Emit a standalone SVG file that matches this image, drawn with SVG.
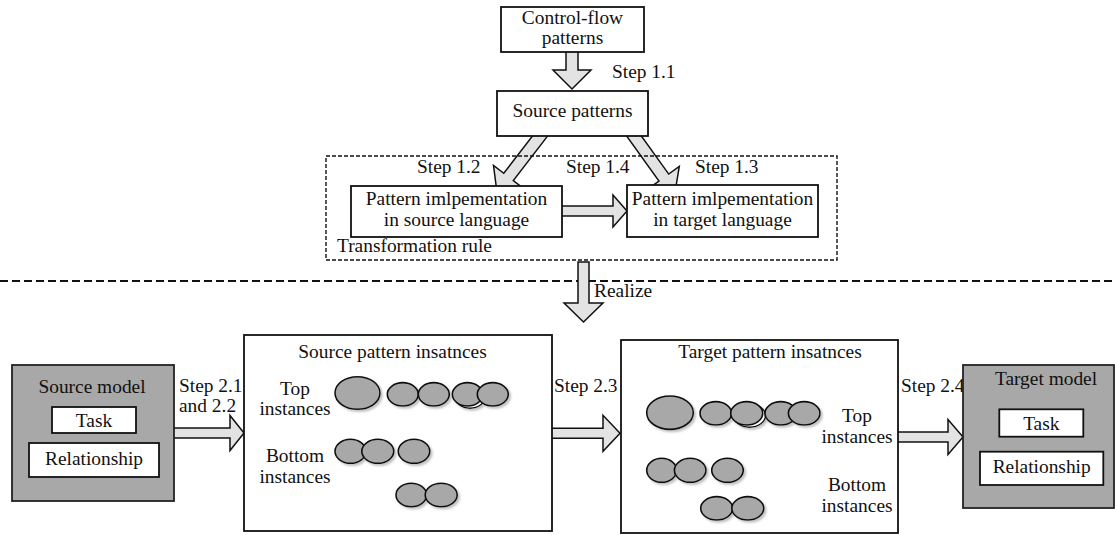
<svg xmlns="http://www.w3.org/2000/svg" width="1115" height="535" viewBox="0 0 1115 535">
  <style>
    text { font-family: "Liberation Serif", Tinos, "Times New Roman", serif; font-size: 19.4px; fill: #111; }
    .mid { text-anchor: middle; }
    .box { fill: #fff; stroke: #111; stroke-width: 1.8; }
    .model { fill: #a8a8a8; stroke: #222; stroke-width: 1.8; }
    .arrow { fill: #e3e3e3; stroke: #111; stroke-width: 1.5; stroke-linejoin: miter; }
    .inst { fill: #a8a8a8; stroke: #111; stroke-width: 1.6; }
    .inst-back { fill: #fff; stroke: #111; stroke-width: 1.4; }
  </style>
  <defs>
    <filter id="shade" x="-20%" y="-20%" width="150%" height="160%">
      <feDropShadow dx="2" dy="2" stdDeviation="1.2" flood-color="#999" flood-opacity="0.6"/>
    </filter>
  </defs>

  <!-- section separator -->
  <line x1="0" y1="281" x2="1115" y2="281" stroke="#111" stroke-width="2" stroke-dasharray="8 4"/>

  <!-- connectors (block arrows) -->
  <g id="connectors">
    <polygon class="arrow" points="566,50 578,50 578,70 591,70 572,89 553,70 566,70"/>
    <polygon class="arrow" transform="translate(544.9,129.7) rotate(127.6)" points="0,-6 59.6,-6 59.6,-19 78.6,0 59.6,19 59.6,6 0,6"/>
    <polygon class="arrow" transform="translate(629.3,129.5) rotate(54.3)" points="0,-6 59.2,-6 59.2,-19 78.2,0 59.2,19 59.2,6 0,6"/>
    <polygon class="arrow" points="560,206 613,206 613,195 627,211 613,227 613,216 560,216"/>
    <polygon class="arrow" points="578,262 589,262 589,303 603,303 583.5,322 564,303 578,303"/>
    <polygon class="arrow" points="172,428 230,428 230,415.5 244,433 230,450.5 230,438 172,438"/>
    <polygon class="arrow" points="550,428.3 603,428.3 603,415.3 620,433.3 603,451.3 603,438.3 550,438.3"/>
    <polygon class="arrow" points="896,432 948,432 948,419.5 963,437 948,454.5 948,442 896,442"/>
  </g>

  <!-- transformation rule frame -->
  <g id="transformation-rule">
    <rect x="326" y="156" width="511" height="104" fill="none" stroke="#111" stroke-width="1.4" stroke-dasharray="4 2"/>
    <text x="337" y="252">Transformation rule</text>
  </g>

  <g id="control-flow-patterns">
    <rect class="box" x="501" y="7" width="143" height="45"/>
    <text class="mid" x="572.5" y="24">Control-flow</text>
    <text class="mid" x="572.5" y="44">patterns</text>
  </g>

  <g id="source-patterns">
    <rect class="box" x="497" y="91" width="151" height="45"/>
    <text class="mid" x="572.5" y="117">Source patterns</text>
  </g>

  <g id="impl-source">
    <rect class="box" x="351" y="186" width="211" height="51"/>
    <text class="mid" x="456.5" y="205">Pattern imlpementation</text>
    <text class="mid" x="456.5" y="226">in source language</text>
  </g>

  <g id="impl-target">
    <rect class="box" x="627" y="185" width="191" height="52"/>
    <text class="mid" x="722.5" y="205">Pattern imlpementation</text>
    <text class="mid" x="722.5" y="226">in target language</text>
  </g>

  <!-- step labels -->
  <g id="labels">
    <text x="612" y="78">Step 1.1</text>
    <text x="417" y="173">Step 1.2</text>
    <text x="566" y="173">Step 1.4</text>
    <text x="695" y="173">Step 1.3</text>
    <text x="594" y="297">Realize</text>
    <text x="179" y="392">Step 2.1</text>
    <text x="179" y="412">and 2.2</text>
    <text x="554" y="392">Step 2.3</text>
    <text x="901" y="392">Step 2.4</text>
  </g>

  <g id="source-model">
    <rect class="model" x="12" y="365" width="162" height="136"/>
    <text class="mid" x="92" y="393">Source model</text>
    <rect class="box" x="52" y="407" width="84" height="26"/>
    <text class="mid" x="94" y="427">Task</text>
    <rect class="box" x="29" y="443" width="130" height="34"/>
    <text class="mid" x="94" y="465">Relationship</text>
  </g>

  <g id="source-instances">
    <rect class="box" x="244" y="335" width="308" height="196"/>
    <text class="mid" x="392.5" y="358">Source pattern insatnces</text>
    <text class="mid" x="295" y="395">Top</text>
    <text class="mid" x="295" y="415">instances</text>
    <text class="mid" x="295" y="462">Bottom</text>
    <text class="mid" x="295" y="483">instances</text>
    <g filter="url(#shade)">
      <ellipse class="inst" cx="357.5" cy="393" rx="22.5" ry="16.3"/>
      <ellipse class="inst" cx="402.8" cy="394.3" rx="15.5" ry="11.7"/>
      <ellipse class="inst" cx="433.8" cy="394.3" rx="15.5" ry="11.7"/>
      <ellipse class="inst-back" cx="470" cy="396.5" rx="15.2" ry="11.7"/>
      <ellipse class="inst" cx="467.5" cy="394.3" rx="15.2" ry="11.7"/>
      <ellipse class="inst" cx="492.8" cy="394.3" rx="15.5" ry="11.7"/>
      <ellipse class="inst" cx="350.5" cy="451.3" rx="15.5" ry="12"/>
      <ellipse class="inst" cx="377.8" cy="451.3" rx="16" ry="12"/>
      <ellipse class="inst" cx="414" cy="451.3" rx="15.8" ry="12"/>
      <ellipse class="inst" cx="411.3" cy="495" rx="15.3" ry="11.7"/>
      <ellipse class="inst" cx="441.2" cy="495" rx="16" ry="11.7"/>
    </g>
  </g>

  <g id="target-instances">
    <rect class="box" x="621" y="340" width="277" height="193"/>
    <text class="mid" x="770" y="358">Target pattern insatnces</text>
    <text class="mid" x="857" y="422">Top</text>
    <text class="mid" x="857" y="443">instances</text>
    <text class="mid" x="857" y="491">Bottom</text>
    <text class="mid" x="857" y="512">instances</text>
    <g filter="url(#shade)">
      <ellipse class="inst" cx="670" cy="412.7" rx="23.3" ry="16.7"/>
      <ellipse class="inst" cx="715.8" cy="413.3" rx="15.8" ry="11.7"/>
      <ellipse class="inst-back" cx="749.5" cy="415.5" rx="16" ry="11.7"/>
      <ellipse class="inst" cx="746.7" cy="413.3" rx="16" ry="11.7"/>
      <ellipse class="inst" cx="780.8" cy="413.3" rx="15.8" ry="11.7"/>
      <ellipse class="inst" cx="804.2" cy="413.3" rx="15.8" ry="11.7"/>
      <ellipse class="inst" cx="661.7" cy="470.3" rx="15" ry="12"/>
      <ellipse class="inst" cx="690.2" cy="470.3" rx="15.8" ry="12"/>
      <ellipse class="inst" cx="727.5" cy="470.3" rx="15.8" ry="12"/>
      <ellipse class="inst" cx="716.7" cy="508.3" rx="16" ry="11.7"/>
      <ellipse class="inst" cx="747.8" cy="508.3" rx="16" ry="11.7"/>
    </g>
  </g>

  <g id="target-model">
    <rect class="model" x="963" y="365" width="151" height="143"/>
    <text class="mid" x="1046" y="385">Target model</text>
    <rect class="box" x="999.3" y="409.3" width="84" height="27.4"/>
    <text class="mid" x="1041.3" y="430">Task</text>
    <rect class="box" x="980" y="451.7" width="123.3" height="33.3"/>
    <text class="mid" x="1041.7" y="473">Relationship</text>
  </g>
</svg>
